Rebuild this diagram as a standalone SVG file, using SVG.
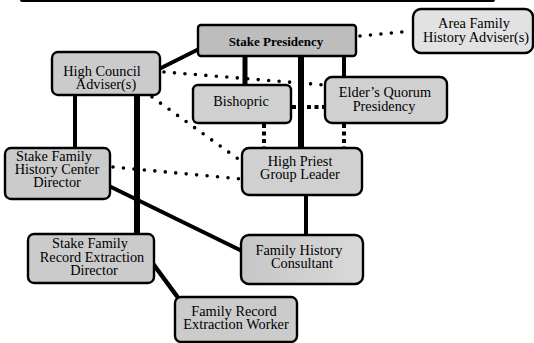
<svg xmlns="http://www.w3.org/2000/svg" width="534" height="343" viewBox="0 0 534 343">
<defs>
<style>
.box{stroke:#000;stroke-width:2.4;fill:#cbcbcb}
.t{font-family:'Liberation Serif',serif;font-size:14.3px;fill:#000;text-anchor:middle}
.b{font-weight:bold;font-size:13px}
.solid{stroke:#000;fill:none;stroke-linecap:butt}
.dot{stroke:#000;fill:none;stroke-width:3.6;stroke-linecap:round;stroke-dasharray:0 10.5}
.sq{stroke:#000;fill:none;stroke-width:4;stroke-dasharray:4 3.5}
</style>
<linearGradient id="g" x1="0" y1="0" x2="1" y2="0">
<stop offset="0" stop-color="#c6c6c6"/>
<stop offset="1" stop-color="#d9d9d9"/>
</linearGradient>
</defs>
<rect x="20" y="-6" width="475" height="8" rx="2" fill="#000"/>
<g id="connectors">
<line class="solid" x1="159" y1="69" x2="199" y2="49" stroke-width="4"/>
<line class="solid" x1="245" y1="56" x2="245" y2="86" stroke-width="5"/>
<line class="solid" x1="301" y1="56" x2="301" y2="149" stroke-width="6"/>
<line class="solid" x1="344" y1="56" x2="344" y2="78" stroke-width="4"/>
<line class="solid" x1="306" y1="194" x2="306" y2="236" stroke-width="4"/>
<line class="solid" x1="75" y1="94" x2="75" y2="149" stroke-width="4"/>
<line class="solid" x1="137" y1="94" x2="137" y2="235" stroke-width="6"/>
<line class="solid" x1="109" y1="186" x2="242" y2="251" stroke-width="4"/>
<line class="solid" x1="151" y1="261" x2="179" y2="299" stroke-width="4.5"/>
<line class="dot" x1="360" y1="36" x2="412" y2="31"/>
<line class="dot" x1="164" y1="72" x2="325" y2="85"/>
<line class="dot" x1="152" y1="97" x2="241" y2="161"/>
<line class="dot" x1="113" y1="167" x2="241" y2="179"/>
<line class="sq" x1="292" y1="107" x2="325" y2="107"/>
<line class="sq" x1="264" y1="124" x2="264" y2="148"/>
<line class="sq" x1="344" y1="124" x2="344" y2="148"/>
</g>
<g id="stake-presidency">
<rect class="box" x="198" y="25" width="158" height="31" rx="3" style="fill:#bdbdbd"/>
<text class="t b" x="276" y="46">Stake Presidency</text>
</g>
<g id="area-family-history-adviser">
<rect class="box" x="413" y="9" width="120" height="44" rx="8" style="fill:#e2e2e2"/>
<text class="t" x="474" y="28">Area Family</text>
<text class="t" x="476" y="42">History Adviser(s)</text>
</g>
<g id="high-council-adviser">
<rect class="box" x="52" y="52" width="108" height="43" rx="6"/>
<text class="t" x="102" y="76">High Council</text>
<text class="t" x="106" y="89">Adviser(s)</text>
</g>
<g id="bishopric">
<rect class="box" x="193" y="85" width="98" height="38" rx="5" style="fill:#d0d0d0"/>
<text class="t" x="241" y="106">Bishopric</text>
</g>
<g id="elders-quorum-presidency">
<rect class="box" x="325" y="77" width="122" height="46" rx="7" style="fill:#d0d0d0"/>
<text class="t" x="385" y="97">Elder’s Quorum</text>
<text class="t" x="384" y="111">Presidency</text>
</g>
<g id="high-priest-group-leader">
<rect class="box" x="242" y="148" width="120" height="47" rx="7" style="fill:#d0d0d0"/>
<text class="t" x="300" y="166">High Priest</text>
<text class="t" x="300" y="179">Group Leader</text>
</g>
<g id="stake-family-history-center-director">
<rect class="box" x="5" y="148" width="105" height="51" rx="6"/>
<text class="t" x="54" y="161">Stake Family</text>
<text class="t" x="57" y="174">History Center</text>
<text class="t" x="57" y="187">Director</text>
</g>
<g id="stake-family-record-extraction-director">
<rect class="box" x="28" y="234" width="126" height="49" rx="6"/>
<text class="t" x="90" y="248">Stake Family</text>
<text class="t" x="92" y="262">Record Extraction</text>
<text class="t" x="94" y="275">Director</text>
</g>
<g id="family-history-consultant">
<rect class="box" x="241" y="235" width="122" height="49" rx="8" style="fill:url(#g)"/>
<text class="t" x="299" y="255">Family History</text>
<text class="t" x="302" y="268">Consultant</text>
</g>
<g id="family-record-extraction-worker">
<rect class="box" x="175" y="297" width="122" height="45" rx="6"/>
<text class="t" x="234" y="316">Family Record</text>
<text class="t" x="236" y="329">Extraction Worker</text>
</g>
</svg>
